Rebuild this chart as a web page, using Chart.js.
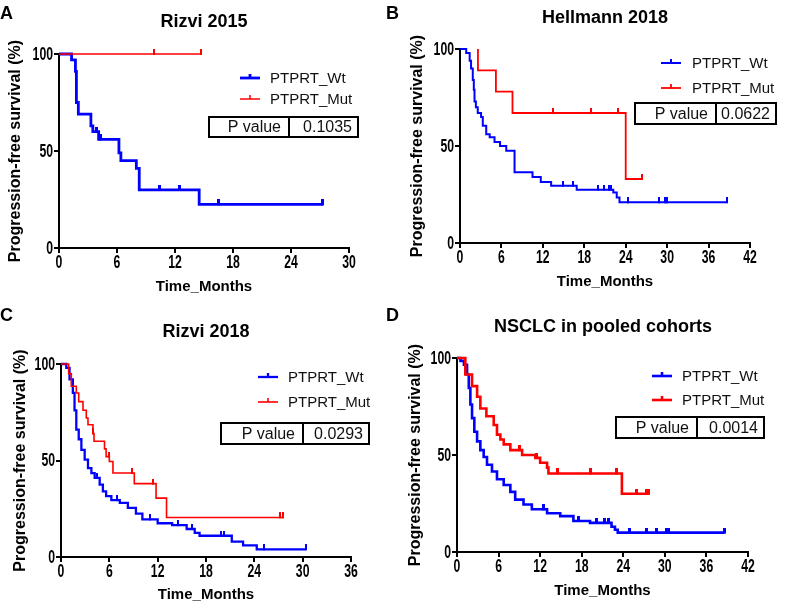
<!DOCTYPE html>
<html><head><meta charset="utf-8">
<script src="https://cdn.jsdelivr.net/npm/chart.js@4.4.1/dist/chart.umd.min.js"></script>
<style>
html,body{margin:0;padding:0;background:#fff;width:788px;height:609px;overflow:hidden;position:relative}
canvas{position:absolute}
.lbl{position:absolute;font:bold 18px "Liberation Sans",Arial,sans-serif;color:#000;z-index:5;line-height:18px}
</style></head><body>
<canvas id="cA" width="394" height="300" style="left:0;top:0"></canvas>
<canvas id="cB" width="394" height="300" style="left:394px;top:0"></canvas>
<canvas id="cC" width="394" height="309" style="left:0;top:300px"></canvas>
<canvas id="cD" width="394" height="309" style="left:394px;top:300px"></canvas>
<div class="lbl" style="left:0;top:4px">A</div>
<div class="lbl" style="left:386px;top:4px">B</div>
<div class="lbl" style="left:0;top:306px">C</div>
<div class="lbl" style="left:386px;top:306px">D</div>
<script>
// ---- data ----
const panelTitles = ['Rizvi 2015', 'Hellmann 2018', 'Rizvi 2018', 'NSCLC in pooled cohorts'];
const pValues = ['0.1035', '0.0622', '0.0293', '0.0014'];
const seriesNames = ['PTPRT_Wt', 'PTPRT_Mut'];
const xMaxMonths = [30, 42, 36, 42];
const xTickStep = 6;
const yTickStep = 50;
const xAxisTitle = 'Time_Months';
const yAxisTitle = 'Progression-free survival (%)';

// Panel A: Rizvi 2015
const aWtTimes = [0, 1.3, 1.7, 1.8, 2.0, 3.3, 3.5, 4.1, 6.2, 6.4, 8.0, 8.3, 14.5];
const aWtSurv  = [100, 97, 91, 75, 69, 63, 60, 56, 49, 45, 41, 30, 22.5];
const aWtCens  = [3.9, 4.3, 10.4, 12.5, 16.5, 27.3];
const aMutTimes = [0];
const aMutSurv  = [100];
const aMutCens  = [9.8, 14.7];

// Panel B: Hellmann 2018
const bWtTimes = [0, 0.9, 1.4, 1.6, 1.85, 2.0, 2.1, 2.3, 2.57, 3.05, 3.3, 3.8, 4.3, 5.0, 5.8, 6.7, 7.9, 10.5, 11.7, 13.2, 16.9, 22.2, 22.7, 23.1];
const bWtSurv  = [100, 98, 94, 90, 84, 79, 73, 70, 67, 65, 60.5, 56, 54.5, 52, 50, 47.5, 36.5, 34, 31.5, 29.5, 27.5, 26, 23.5, 21];
const bWtCens  = [14.9, 16.3, 20.0, 20.9, 21.6, 21.8, 24.3, 28.8, 29.7, 30.0, 38.6];
const bMutTimes = [2.6, 2.6, 5.2, 7.6, 24.0];
const bMutSurv  = [100, 89, 78, 67, 33];
const bMutCens  = [13.5, 19.0, 22.9, 26.3];

// Panel C: Rizvi 2018
const cWtTimes = [0, 0.66, 1.06, 1.47, 1.68, 1.9, 2.2, 2.53, 2.94, 3.35, 3.77, 4.18, 4.8, 5.2, 5.6, 6.25, 7.3, 8.3, 9.3, 10.1, 12.0, 13.8, 15.6, 16.6, 17.2, 21.2, 22.6, 24.3];
const cWtSurv  = [100, 98, 92, 85, 76, 66, 61, 55.5, 50.5, 46, 43.5, 41, 37.5, 34, 31.5, 29.5, 28, 25.5, 22.5, 19.5, 17.5, 16.5, 14.5, 12.5, 11, 8, 6, 4];
const cWtCens  = [4.5, 7.0, 11.0, 14.5, 16.2, 19.8, 20.2, 25.2, 30.4];
const cMutTimes = [0, 0.95, 1.28, 1.9, 2.2, 2.73, 3.14, 3.35, 3.97, 4.1, 5.4, 5.6, 6.0, 6.45, 9.1, 11.8, 13.1];
const cMutSurv  = [100, 95, 88.5, 85, 80.5, 76, 72, 68.5, 64, 60, 56, 52, 49.5, 43.5, 38, 30.5, 20.5];
const cMutCens  = [4.0, 5.9, 8.8, 11.4, 27.2, 27.6];

// Panel D: NSCLC in pooled cohorts
const dWtTimes = [0, 0.5, 1.0, 1.45, 1.7, 1.93, 2.17, 2.5, 2.9, 3.37, 3.85, 4.33, 5.05, 5.77, 6.74, 7.7, 8.4, 9.6, 10.8, 13.0, 14.9, 16.8, 19.2, 22.3, 22.8, 23.2];
const dWtSurv  = [100, 98.5, 96.5, 91.5, 84.5, 76, 69, 62, 57, 52.5, 49, 45, 41.5, 37.5, 34.5, 31, 27, 24.5, 22, 20, 18.5, 16, 15, 13, 11.5, 10];
const dWtCens  = [12.5, 17.5, 20.1, 21.3, 21.8, 24.9, 27.3, 28.8, 30.2, 30.5, 38.6];
const dMutTimes = [0, 1.2, 2.17, 2.9, 3.37, 4.24, 5.3, 5.77, 6.26, 6.74, 7.7, 9.4, 11.3, 12.0, 13.0, 13.2, 23.8];
const dMutSurv  = [100, 91.5, 85.5, 80, 74, 70, 65.5, 60.5, 58, 55.5, 52.5, 50, 48.5, 46, 43.5, 40.5, 30];
const dMutCens  = [9.0, 11.5, 14.5, 19.2, 23.0, 25.9, 27.3, 27.7];

// ---- rendering ----
const FONT = '"Liberation Sans", Arial, Helvetica, sans-serif';
const BLUE = '#0000ff', RED = '#ff0000';

function buildCurve(T, S, C) {
  const pts = T.map((t, i) => ({x: t, y: S[i], c: 0}));
  C.forEach(ct => {
    let s = S[0];
    for (let i = 0; i < T.length; i++) if (T[i] <= ct) s = S[i];
    pts.push({x: ct, y: s, c: 1});
  });
  pts.sort((p, q) => p.x - q.x);
  return pts;
}
function tickImg(color, w, h) {
  const c = document.createElement('canvas');
  c.width = w; c.height = 2 * h;
  const g = c.getContext('2d');
  g.fillStyle = color; g.fillRect(0, 0, w, h + 1);
  return c;
}
function narrowText(ctx, txt, x, y, align) {
  ctx.save();
  ctx.translate(x, y);
  ctx.scale(0.68, 1);
  ctx.textAlign = align;
  ctx.fillText(txt, 0, 0);
  ctx.restore();
}

function panel(cfg) {
  const cv = document.getElementById(cfg.id);
  const W = cv.width, H = cv.height, a = cfg.area;
  const decor = {
    id: 'decor' + cfg.id,
    afterDraw(chart) {
      const ctx = chart.ctx;
      ctx.save();
      ctx.fillStyle = '#000';
      ctx.textBaseline = 'middle';
      // tick labels (condensed, from the library's own scales)
      ctx.font = 'bold 18px ' + FONT;
      const xs = chart.scales.x, ys = chart.scales.y;
      xs.ticks.forEach(t => narrowText(ctx, String(t.value), xs.getPixelForValue(t.value), xs.top + 15, 'center'));
      ys.ticks.forEach(t => narrowText(ctx, String(t.value), ys.right - 6, ys.getPixelForValue(t.value) + 1, 'right'));
      ctx.font = 'bold 18px ' + FONT;
      ctx.textAlign = 'center';
      ctx.fillText(cfg.title, cfg.titleX, cfg.titleY);
      const L = cfg.legend;
      [[L.y1, BLUE, cfg.wtW, seriesNames[0]], [L.y2, RED, cfg.mutW, seriesNames[1]]].forEach(([y, col, lw, txt]) => {
        ctx.strokeStyle = col; ctx.lineWidth = lw;
        ctx.beginPath(); ctx.moveTo(L.x, y); ctx.lineTo(L.x + 20, y); ctx.stroke();
        ctx.beginPath(); ctx.moveTo(L.x + 10, y); ctx.lineTo(L.x + 10, y - 4); ctx.stroke();
        ctx.fillStyle = '#111'; ctx.font = '15px ' + FONT; ctx.textAlign = 'left';
        ctx.fillText(txt, L.tx, y + 1);
      });
      const B = cfg.box;
      ctx.strokeStyle = '#000'; ctx.lineWidth = 2;
      ctx.strokeRect(B.x1, B.y1, B.x2 - B.x1, B.y2 - B.y1);
      ctx.beginPath(); ctx.moveTo(B.xm, B.y1); ctx.lineTo(B.xm, B.y2); ctx.stroke();
      ctx.font = '16px ' + FONT; ctx.textAlign = 'right'; ctx.fillStyle = '#111';
      const cy = (B.y1 + B.y2) / 2 + 1;
      ctx.fillText('P value', B.xm - 8, cy);
      ctx.fillText(cfg.p, B.x2 - 6, cy);
      ctx.restore();
    }
  };
  const ds = (pts, col, lw) => ({
    type: 'line', data: pts, stepped: 'before', borderColor: col, backgroundColor: col,
    borderWidth: lw, fill: false, clip: 10, borderJoinStyle: 'miter', borderCapStyle: 'butt',
    pointStyle: tickImg(col, Math.max(2, Math.round(lw)), 5),
    pointRadius: c => (c.raw && c.raw.c) ? 3 : 0, pointHoverRadius: 0, pointHitRadius: 0
  });
  const hidden = 'rgba(0,0,0,0)';
  new Chart(cv, {
    type: 'line',
    data: { datasets: [ds(cfg.mut, RED, cfg.mutW), ds(cfg.wt, BLUE, cfg.wtW)] },
    options: {
      responsive: false, animation: false, events: [],
      layout: { padding: { left: 0, top: a.t, right: W - a.r, bottom: 0 } },
      plugins: { legend: { display: false }, tooltip: { enabled: false }, title: { display: false } },
      scales: {
        x: {
          type: 'linear', min: 0, max: cfg.xMax,
          ticks: { stepSize: xTickStep, color: hidden, font: { family: FONT, size: 14, weight: 'bold' }, padding: 1, maxRotation: 0, autoSkip: false },
          grid: { display: true, drawOnChartArea: false, drawTicks: true, tickLength: 5, color: '#000', lineWidth: 2 },
          border: { display: true, color: '#000', width: 2 },
          title: { display: true, text: xAxisTitle, color: '#000', font: { family: FONT, size: 15, weight: 'bold' }, padding: { top: 0, bottom: cfg.xtPad } },
          afterFit(s) { s.height = H - a.b; }
        },
        y: {
          type: 'linear', min: 0, max: 100,
          ticks: { stepSize: yTickStep, color: hidden, font: { family: FONT, size: 14, weight: 'bold' }, padding: 1 },
          grid: { display: true, drawOnChartArea: false, drawTicks: true, tickLength: 5, color: '#000', lineWidth: 2 },
          border: { display: true, color: '#000', width: 2 },
          title: { display: true, text: yAxisTitle, color: '#000', font: { family: FONT, size: 16, weight: 'bold' }, padding: { top: cfg.ytPad, bottom: 0 } },
          afterFit(s) { s.width = a.l; }
        }
      }
    },
    plugins: [decor]
  });
}

panel({ id: 'cA', area: { l: 59, r: 349, t: 54, b: 248 }, xMax: xMaxMonths[0], title: panelTitles[0], titleX: 204, titleY: 22, p: pValues[0],
  wt: buildCurve(aWtTimes, aWtSurv, aWtCens), mut: buildCurve(aMutTimes, aMutSurv, aMutCens), wtW: 2.8, mutW: 1.5,
  legend: { x: 240, tx: 270, y1: 78, y2: 99 }, box: { x1: 209, x2: 358, y1: 117, y2: 137, xm: 289 }, xtPad: 4, ytPad: 6 });
panel({ id: 'cB', area: { l: 66, r: 356, t: 49, b: 243 }, xMax: xMaxMonths[1], title: panelTitles[1], titleX: 211, titleY: 18, p: pValues[1],
  wt: buildCurve(bWtTimes, bWtSurv, bWtCens), mut: buildCurve(bMutTimes, bMutSurv, bMutCens), wtW: 2, mutW: 1.8,
  legend: { x: 267, tx: 298, y1: 63, y2: 88 }, box: { x1: 241, x2: 382, y1: 103, y2: 124, xm: 322 }, xtPad: 9, ytPad: 14 });
panel({ id: 'cC', area: { l: 61, r: 351, t: 64, b: 257 }, xMax: xMaxMonths[2], title: panelTitles[2], titleX: 206, titleY: 32, p: pValues[2],
  wt: buildCurve(cWtTimes, cWtSurv, cWtCens), mut: buildCurve(cMutTimes, cMutSurv, cMutCens), wtW: 2.3, mutW: 1.6,
  legend: { x: 258, tx: 288, y1: 77, y2: 102 }, box: { x1: 221, x2: 369, y1: 123, y2: 144, xm: 303 }, xtPad: 5, ytPad: 11 });
panel({ id: 'cD', area: { l: 63, r: 354, t: 58, b: 252 }, xMax: xMaxMonths[3], title: panelTitles[3], titleX: 209, titleY: 27, p: pValues[3],
  wt: buildCurve(dWtTimes, dWtSurv, dWtCens), mut: buildCurve(dMutTimes, dMutSurv, dMutCens), wtW: 2.6, mutW: 2.6,
  legend: { x: 258, tx: 288, y1: 76, y2: 100 }, box: { x1: 222, x2: 370, y1: 117, y2: 138, xm: 303 }, xtPad: 9, ytPad: 12 });
</script>
</body></html>
